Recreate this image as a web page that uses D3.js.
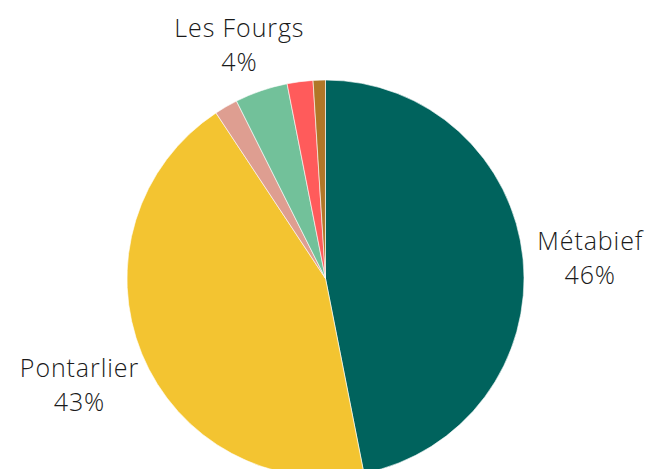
<!DOCTYPE html>
<html>
<head>
<meta charset="utf-8">
<script src="https://cdn.jsdelivr.net/npm/d3@7"></script>
<style>
  body { margin: 0; background: #fff; }
  text { font-family: "Open Sans", sans-serif; font-weight: 300; fill: #1a1a1a; }
</style>
</head>
<body>
<div id="chart"></div>
<script>
// slices, clockwise from the top
const categories = ["Métabief", "Pontarlier", "Autre A", "Les Fourgs", "Autre B", "Autre C"]
const values = [46.9, 43.8, 1.9, 4.3, 2.1, 1.0]
const percentLabels = ["46%", "43%", "", "4%", "", ""]
const colors = ["#00635d", "#f3c431", "#de9e91", "#72c19a", "#ff5b5b", "#b07727"]

const width = 647
const height = 469
const cx = 325.5
const cy = 278.5
const radius = 198.5

const data = categories.map(function(c, i) {
  return { name: c, value: values[i], label: percentLabels[i], color: colors[i] }
})

let svg = d3.select("#chart")
            .append("svg")
            .attr("width", width)
            .attr("height", height)

let g = svg.append("g")
           .attr("transform", "translate(" + cx + "," + cy + ")")

let pie = d3.pie()
            .sort(null)
            .value(function(d) { return d.value })

let arc = d3.arc()
            .innerRadius(0)
            .outerRadius(radius)

let labelArc = d3.arc()
                 .innerRadius(radius * 1.34)
                 .outerRadius(radius * 1.34)

let arcs = pie(data)

g.selectAll(".slice")
 .data(arcs)
 .enter().append("path")
 .attr("class", "slice")
 .attr("d", arc)
 .style("fill", function(d) { return d.data.color })
 .style("stroke", "#fff")
 .style("stroke-width", 0.6)

//Only the labelled slices get text, kept inside the top edge
let labels = g.selectAll(".label")
              .data(arcs.filter(function(d) { return d.data.label !== "" }))
              .enter().append("text")
              .attr("class", "label")
              .attr("text-anchor", "middle")
              .attr("transform", function(d) {
                  let c = labelArc.centroid(d)
                  let y = Math.max(c[1] - 3, 37 - cy)
                  return "translate(" + c[0] + "," + y + ")"
              })
              .style("font-size", "25px")
              .style("letter-spacing", "0.9px")

labels.append("tspan")
      .attr("x", 0)
      .attr("y", 0)
      .text(function(d) { return d.data.name })

labels.append("tspan")
      .attr("x", 0)
      .attr("y", 34)
      .text(function(d) { return d.data.label })
</script>
</body>
</html>
